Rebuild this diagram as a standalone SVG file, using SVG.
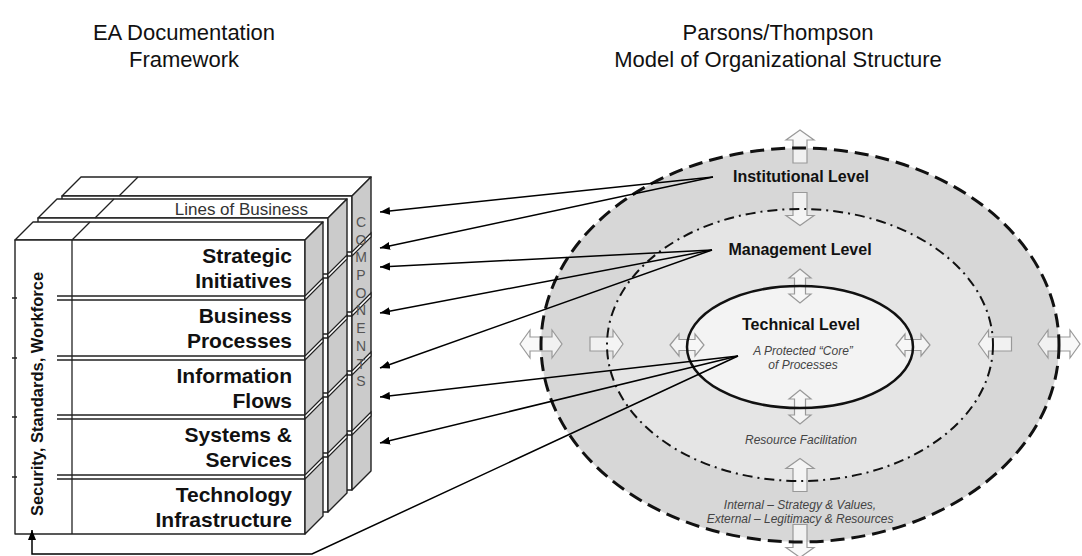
<svg xmlns="http://www.w3.org/2000/svg" width="1082" height="556" viewBox="0 0 1082 556">
<style>
  text{font-family:"Liberation Sans",Arial,sans-serif}
  .title{font-size:22px;fill:#111;text-anchor:middle}
  .row{font-size:21px;font-weight:bold;fill:#111;text-anchor:end}
  .edge{stroke:#222;stroke-width:1.4;stroke-linejoin:round}
  .face{fill:#fff}
  .side{fill:#cbcbcb}
  .gap{fill:#fff;stroke:#222;stroke-width:1.2}
  .dl{stroke:#222;stroke-width:1.3;fill:none}
  .comp{font-size:14px;fill:#555;text-anchor:middle}
  .lvl{font-size:16px;font-weight:bold;fill:#111;text-anchor:middle}
  .note{font-size:12px;font-style:italic;fill:#444;text-anchor:middle}
  .blk{fill:#f8f8f8;fill-opacity:.8;stroke:#999;stroke-width:1.2}
  .conn{stroke:#000;stroke-width:1.5;fill:none;marker-end:url(#ah)}
</style>
<defs>
  <marker id="ah" viewBox="0 0 10 8" refX="10" refY="4" markerWidth="10" markerHeight="8" markerUnits="userSpaceOnUse" orient="auto">
    <path d="M0,0 L10,4 L0,8 Z" fill="#000"/>
  </marker>
  <path id="dbl" d="M-21,0 L-11,-14 L-11,-7 L11,-7 L11,-14 L21,0 L11,14 L11,7 L-11,7 L-11,14 Z"/>
  <path id="dbl-sm" d="M-17,0 L-8,-11 L-8,-5.5 L8,-5.5 L8,-11 L17,0 L8,11 L8,5.5 L-8,5.5 L-8,11 Z"/>
  <path id="one" d="M-16.5,-7 L6.5,-7 L6.5,-14 L16.5,0 L6.5,14 L6.5,7 L-16.5,7 Z"/>
</defs>

<rect width="1082" height="556" fill="#fff"/>

<!-- headings -->
<g id="framework-title">
  <text class="title" x="184" y="40">EA Documentation</text>
  <text class="title" x="184" y="67">Framework</text>
</g>
<g id="model-title">
  <text class="title" x="778" y="40">Parsons/Thompson</text>
  <text class="title" x="778" y="67">Model of Organizational Structure</text>
</g>

<!-- EA cube: three slabs, back to front -->
<g id="components-slab">
  <polygon class="face edge" points="62,196 352,196 371,177 81,177"/>
  <rect class="face edge" x="62" y="196" width="290" height="294"/>
  <polygon class="side edge" points="352,196 371,177 371,471 352,490"/>
  <line class="dl" x1="119" y1="196" x2="138" y2="177"/>
  <path class="dl" d="M104,252H352M104,256H352M104,312H352M104,316H352M104,371H352M104,375H352M104,431H352M104,435H352"/>
  <polygon class="gap" points="352,252 371,233 371,237 352,256"/>
  <polygon class="gap" points="352,312 371,293 371,297 352,316"/>
  <polygon class="gap" points="352,371 371,352 371,356 352,375"/>
  <polygon class="gap" points="352,431 371,412 371,416 352,435"/>
  <g class="comp">
    <text x="361" y="227">C</text>
    <text x="361" y="245">O</text>
    <text x="361" y="262">M</text>
    <text x="361" y="280">P</text>
    <text x="361" y="298">O</text>
    <text x="361" y="315">N</text>
    <text x="361" y="333">E</text>
    <text x="361" y="351">N</text>
    <text x="361" y="369">T</text>
    <text x="361" y="386">S</text>
  </g>
</g>

<g id="lines-of-business-slab">
  <polygon class="face edge" points="38,218 328,218 347,199 57,199"/>
  <rect class="face edge" x="38" y="218" width="290" height="294"/>
  <polygon class="side edge" points="328,218 347,199 347,493 328,512"/>
  <line class="dl" x1="95" y1="218" x2="114" y2="199"/>
  <path class="dl" d="M80,274H328M80,278H328M80,334H328M80,338H328M80,393H328M80,397H328M80,453H328M80,457H328"/>
  <polygon class="gap" points="328,274 347,255 347,259 328,278"/>
  <polygon class="gap" points="328,334 347,315 347,319 328,338"/>
  <polygon class="gap" points="328,393 347,374 347,378 328,397"/>
  <polygon class="gap" points="328,453 347,434 347,438 328,457"/>
  <text x="308" y="215" font-size="17" fill="#333" text-anchor="end">Lines of Business</text>
</g>

<g id="front-slab">
  <polygon class="face edge" points="15,240 305,240 323,222 33,222"/>
  <rect class="face edge" x="15" y="240" width="290" height="294"/>
  <polygon class="side edge" points="305,240 323,222 323,516 305,534"/>
  <line class="dl" x1="72" y1="240" x2="72" y2="534"/>
  <line class="dl" x1="72" y1="240" x2="90" y2="222"/>
  <path class="dl" d="M57,296H305M57,300H305M57,356H305M57,360H305M57,415H305M57,419H305M57,475H305M57,479H305"/>
  <path class="dl" d="M12,298H17M12,358H17M12,417H17M12,477H17"/>
  <polygon class="gap" points="305,296 323,278 323,282 305,300"/>
  <polygon class="gap" points="305,356 323,338 323,342 305,360"/>
  <polygon class="gap" points="305,415 323,397 323,401 305,419"/>
  <polygon class="gap" points="305,475 323,457 323,461 305,479"/>
  <text transform="translate(43,394) rotate(-90)" font-size="16.5" font-weight="bold" fill="#111" text-anchor="middle">Security, Standards, Workforce</text>
</g>

<g id="strategic-initiatives"><text class="row" x="292" y="263">Strategic</text><text class="row" x="292" y="288">Initiatives</text></g>
<g id="business-processes"><text class="row" x="292" y="323">Business</text><text class="row" x="292" y="348">Processes</text></g>
<g id="information-flows"><text class="row" x="292" y="383">Information</text><text class="row" x="292" y="408">Flows</text></g>
<g id="systems-services"><text class="row" x="292" y="442">Systems &amp;</text><text class="row" x="292" y="467">Services</text></g>
<g id="technology-infrastructure"><text class="row" x="292" y="502">Technology</text><text class="row" x="292" y="527">Infrastructure</text></g>

<!-- Parsons/Thompson levels -->
<g id="institutional-ring"><ellipse cx="800" cy="345" rx="259" ry="197" fill="#d7d7d7"/></g>
<g id="management-ring"><ellipse cx="800" cy="345" rx="193" ry="136" fill="#e5e5e5"/></g>
<g id="technical-core"><ellipse cx="800" cy="347" rx="113" ry="61" fill="#f3f3f3"/></g>

<g id="exchange-arrows" class="blk">
  <use href="#one" transform="translate(800,146.5) rotate(-90)"/>
  <use href="#one" transform="translate(800,209) rotate(90)"/>
  <use href="#dbl-sm" transform="translate(800,286) rotate(90)"/>
  <use href="#dbl-sm" transform="translate(800,407) rotate(90)"/>
  <use href="#one" transform="translate(800,475) rotate(-90)"/>
  <use href="#one" transform="translate(800,541) rotate(90)"/>
  <use href="#dbl" transform="translate(541,344)"/>
  <use href="#one" transform="translate(606.5,344)"/>
  <use href="#dbl-sm" transform="translate(687,345)"/>
  <use href="#dbl-sm" transform="translate(913,345)"/>
  <use href="#one" transform="translate(995,344) rotate(180)"/>
  <use href="#dbl" transform="translate(1059,344)"/>
</g>

<g id="level-boundaries" fill="none">
  <ellipse cx="800" cy="345" rx="259" ry="197" stroke="#111" stroke-width="3" stroke-dasharray="14 7"/>
  <ellipse cx="800" cy="345" rx="193" ry="136" stroke="#111" stroke-width="2" stroke-dasharray="10 5 2 5"/>
  <ellipse cx="800" cy="347" rx="113" ry="61" stroke="#111" stroke-width="2.5"/>
</g>

<g id="institutional-level"><text class="lvl" x="801" y="182">Institutional Level</text></g>
<g id="management-level"><text class="lvl" x="800" y="255">Management Level</text></g>
<g id="technical-level">
  <text class="lvl" x="801" y="330">Technical Level</text>
  <text class="note" x="803" y="355">A Protected “Core”</text>
  <text class="note" x="803" y="369">of Processes</text>
</g>
<g id="resource-facilitation"><text class="note" x="801" y="444">Resource Facilitation</text></g>
<g id="environment-note">
  <text class="note" x="800" y="509">Internal – Strategy &amp; Values,</text>
  <text class="note" x="800" y="523">External – Legitimacy &amp; Resources</text>
</g>

<g id="connectors">
  <path class="conn" d="M713,177 L380,212"/>
  <path class="conn" d="M713,177 L380,248"/>
  <path class="conn" d="M712,250 L380,267"/>
  <path class="conn" d="M712,250 L380,313"/>
  <path class="conn" d="M712,250 L380,368"/>
  <path class="conn" d="M738,356 L380,397"/>
  <path class="conn" d="M738,356 L380,443"/>
  <path class="conn" d="M738,356 L312,554 L32,554 L32,530"/>
</g>
</svg>
